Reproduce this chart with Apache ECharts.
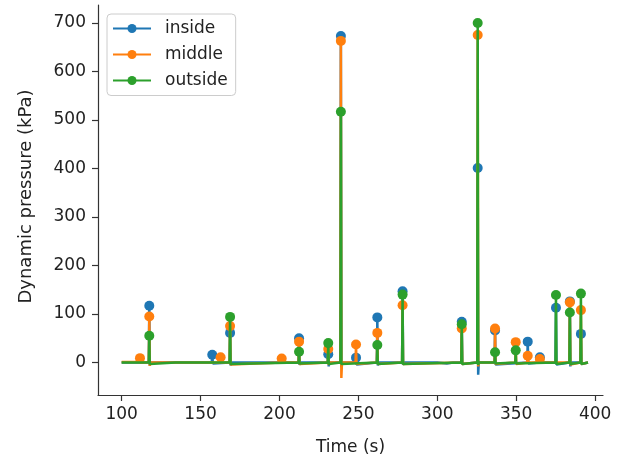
<!DOCTYPE html>
<html>
<head>
<meta charset="utf-8">
<title>Dynamic pressure</title>
<script src="https://cdn.jsdelivr.net/npm/echarts@6/dist/echarts.min.js"></script>
<style>
  html, body { margin: 0; padding: 0; background: #fff; }
  #chart { width: 628px; height: 461px; }
</style>
</head>
<body>
<div id="chart"></div>
<script>
// tick labels
const xTicks = [100, 150, 200, 250, 300, 350, 400];
const yTicks = [0, 100, 200, 300, 400, 500, 600, 700];

// [time (s), pressure (kPa)]
const insideLine = [
  [100, 0], [117.2, 0], [117.5, 117], [117.8, -6], [118.2, 0],
  [157.1, 0], [157.4, 16], [157.8, -2], [158.2, 0],
  [168.4, 0], [168.7, 61], [169.0, -6], [169.4, 0],
  [212.1, 0], [212.4, 50], [212.7, -5], [213.1, 0],
  [230.6, 0], [230.9, 17], [231.2, -8], [231.6, 0],
  [238.6, 0], [238.9, 673], [239.2, -10], [239.6, 0],
  [248.2, 0], [248.5, 10], [248.8, -4], [249.2, 0],
  [261.7, 0], [262, 93], [262.3, -6], [262.7, 0],
  [277.7, 0], [278, 147], [278.3, -5], [278.7, 0],
  [300, 0], [306, -2], [310, 0],
  [315.2, 0], [315.5, 84], [315.8, -3], [316.2, 0],
  [325.3, 0], [325.6, 401], [325.9, -25], [326.3, 0],
  [336.3, 0], [336.6, 66], [336.9, -4], [337.3, 0],
  [357.0, 0], [357.3, 43], [357.7, -2], [358.1, 0],
  [364.7, 0], [365, 11], [365.4, 0],
  [374.9, 0], [375.2, 113], [375.5, -4], [375.9, 0],
  [383.7, 0], [384, 126], [384.3, -8], [384.7, 0],
  [390.7, 0], [391, 59], [391.3, -3], [391.7, 0],
  [395.5, 0]
];
const insidePeaks = [117.5, 157.4, 168.7, 212.4, 230.9, 238.9, 248.5, 262, 278,
  315.5, 325.6, 336.6, 357.3, 365, 375.2, 384, 391];

const middleLine = [
  [100, 1], [111.3, 1], [111.6, 9], [111.9, 0],
  [117.2, 0], [117.5, 95], [117.8, -7], [118.2, 0],
  [162.4, 0], [162.7, 11], [163.1, 0],
  [168.4, 0], [168.7, 75], [169.0, -4], [169.4, 0],
  [201.1, 0], [201.4, 8], [201.8, 0],
  [212.1, 0], [212.4, 43], [212.7, -3], [213.1, 0],
  [230.6, 0], [230.9, 28], [231.2, -5], [231.6, 0],
  [238.6, 0], [238.9, 663], [239.2, -32], [239.6, 0],
  [248.2, 0], [248.5, 37], [248.8, -3], [249.2, 0],
  [261.7, 0], [262, 61], [262.3, -3], [262.7, 0],
  [277.7, 0], [278, 118], [278.3, -3], [278.7, 0],
  [315.2, 0], [315.5, 70], [315.8, -3], [316.2, 0],
  [325.3, 0], [325.6, 675], [325.9, -8], [326.3, 0],
  [336.3, 0], [336.6, 70], [336.9, -3], [337.3, 0],
  [349.4, 0], [349.7, 42], [350.0, -3], [350.4, 0],
  [357.0, 0], [357.3, 14], [357.7, 0],
  [364.7, 0], [365, 7], [365.4, 0],
  [383.7, 0], [384, 124], [384.3, -4], [384.7, 0],
  [390.7, 0], [391, 108], [391.3, -3], [391.7, 0],
  [395.5, 0]
];
const middlePeaks = [111.6, 117.5, 162.7, 168.7, 201.4, 212.4, 230.9, 238.9, 248.5,
  262, 278, 315.5, 325.6, 336.6, 349.7, 357.3, 365, 384, 391];

const outsideLine = [
  [100, 0], [117.2, 0], [117.5, 55], [117.8, -3], [118.2, 0],
  [134, 0], [135, -2], [136, 0],
  [168.4, 0], [168.7, 94], [169.0, -3], [169.4, 0],
  [212.1, 0], [212.4, 22], [212.7, -2], [213.1, 0],
  [230.6, 0], [230.9, 40], [231.2, -3], [231.6, 0],
  [238.6, 0], [238.9, 517], [239.2, -3], [239.6, 0],
  [261.7, 0], [262, 36], [262.3, -3], [262.7, 0],
  [277.7, 0], [278, 140], [278.3, -3], [278.7, 0],
  [315.2, 0], [315.5, 79], [315.8, -3], [316.2, 0],
  [325.3, 0], [325.6, 700], [325.9, -5], [326.3, 0],
  [336.3, 0], [336.6, 21], [336.9, -2], [337.3, 0],
  [349.4, 0], [349.7, 25], [350.0, -2], [350.4, 0],
  [374.9, 0], [375.2, 139], [375.5, -3], [375.9, 0],
  [383.7, 0], [384, 103], [384.3, -3], [384.7, 0],
  [390.7, 0], [391, 142], [391.3, -3], [391.7, 0],
  [395.5, 0]
];
const outsidePeaks = [117.5, 168.7, 212.4, 230.9, 238.9, 262, 278, 315.5, 325.6,
  336.6, 349.7, 375.2, 384, 391];

const FONT = 'DejaVu Sans';
const AXIS_COLOR = '#333';
const TEXT_COLOR = '#222';

// line then its markers, series by series, so later traces sit on top
const makeSeries = (name, color, line, peaks, z) => [
  {
    name: name,
    type: 'line',
    data: line,
    z: z,
    symbol: 'circle',
    showSymbol: false,
    lineStyle: { color: color, width: 2.5 },
    itemStyle: { color: color }
  },
  {
    name: name,
    type: 'scatter',
    data: line.filter(p => peaks.includes(p[0])),
    z: z + 1,
    symbol: 'circle',
    symbolSize: 10,
    itemStyle: { color: color, opacity: 1 }
  }
];

const chart = echarts.init(document.getElementById('chart'), null, { renderer: 'canvas' });

chart.setOption({
  animation: false,
  backgroundColor: '#fff',
  textStyle: { fontFamily: FONT },
  grid: { left: 98, right: 25, top: 5, bottom: 64 },
  legend: {
    data: ['inside', 'middle', 'outside'],
    orient: 'vertical',
    left: 107,
    top: 14,
    padding: [6, 8, 6.5, 5],
    itemWidth: 38,
    itemHeight: 11.25,
    itemGap: 9,
    backgroundColor: '#fff',
    borderColor: '#cccccc',
    borderWidth: 1,
    borderRadius: 4,
    textStyle: {
      fontFamily: FONT,
      fontSize: 17,
      lineHeight: 17,
      color: TEXT_COLOR,
      padding: [0, 0, 0, 9]
    }
  },
  xAxis: {
    type: 'value',
    min: 85,
    max: 405,
    name: 'Time (s)',
    nameLocation: 'middle',
    nameGap: 44,
    nameTextStyle: { fontFamily: FONT, fontSize: 17, color: TEXT_COLOR },
    splitLine: { show: false },
    axisLine: { show: true, onZero: false, lineStyle: { color: AXIS_COLOR, width: 1.2 } },
    axisTick: { show: true, customValues: xTicks, length: 6, lineStyle: { color: AXIS_COLOR, width: 1.2 } },
    axisLabel: { customValues: xTicks, fontFamily: FONT, fontSize: 17, color: TEXT_COLOR, margin: 11 }
  },
  yAxis: {
    type: 'value',
    min: -67,
    max: 737,
    name: 'Dynamic pressure (kPa)',
    nameLocation: 'middle',
    nameGap: 63,
    nameRotate: 90,
    nameTextStyle: { fontFamily: FONT, fontSize: 18, color: TEXT_COLOR, padding: [0, 0, 0, 7] },
    splitLine: { show: false },
    axisLine: { show: true, onZero: false, lineStyle: { color: AXIS_COLOR, width: 1.2 } },
    axisTick: { show: true, customValues: yTicks, length: 6, lineStyle: { color: AXIS_COLOR, width: 1.2 } },
    axisLabel: { customValues: yTicks, fontFamily: FONT, fontSize: 17, color: TEXT_COLOR, margin: 12 }
  },
  series: [
    ...makeSeries('inside', '#1f77b4', insideLine, insidePeaks, 2),
    ...makeSeries('middle', '#ff7f0e', middleLine, middlePeaks, 4),
    ...makeSeries('outside', '#2ca02c', outsideLine, outsidePeaks, 6)
  ]
});

window.addEventListener('resize', () => chart.resize());
</script>
</body>
</html>
